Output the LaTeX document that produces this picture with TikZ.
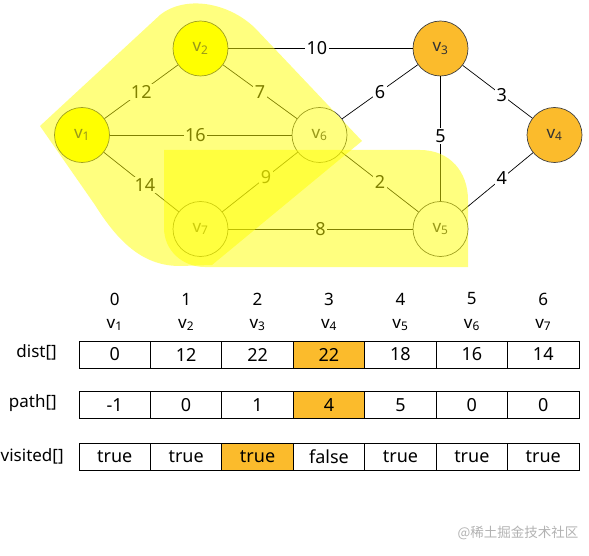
\documentclass[tikz,border=0pt]{standalone}
\usepackage{fontspec}
\setmainfont{Noto Sans}
\newfontfamily\cjk{Noto Sans CJK SC}
\definecolor{hl}{HTML}{FFFF00}
\definecolor{org}{HTML}{FBBB2C}
\begin{document}
\begin{tikzpicture}[x=1pt,y=-1pt,
  vert/.style={circle,draw=black!75,line width=0.7pt,minimum size=55pt,inner sep=0pt,
    font=\fontsize{17}{19}\selectfont,text=black!80},
  wlab/.style={fill=white,inner sep=1.5pt,font=\fontsize{18}{20}\selectfont},
  edge/.style={line width=0.7pt,black},
  cell/.style={draw,line width=0.8pt,minimum width=71.43pt,minimum height=27pt,
    inner sep=0pt},
  val/.style={font=\fontsize{18}{20}\selectfont,inner sep=0pt},
  hdr/.style={font=\fontsize{17}{19}\selectfont},
  rowlab/.style={anchor=east,font=\fontsize{17}{19}\selectfont,inner sep=0pt},
  hlfill/.style={fill=hl,fill opacity=0.5}]
\useasboundingbox (0,0) rectangle (589,556);
% vertices
\node[vert,fill=hl] (v1) at (82,135) {v\textsubscript{1}};
\node[vert,fill=hl] (v2) at (200.5,48.5) {v\textsubscript{2}};
\node[vert,fill=org] (v3) at (440.5,48.5) {v\textsubscript{3}};
\node[vert,fill=org] (v4) at (554.5,135) {v\textsubscript{4}};
\node[vert,fill=white] (v5) at (440.5,229) {v\textsubscript{5}};
\node[vert,fill=white] (v6) at (319.5,135) {v\textsubscript{6}};
\node[vert,fill=white] (v7) at (200.5,229) {v\textsubscript{7}};
% edges
\draw[edge] (v2) -- node[wlab,pos=0.48]{10} (v3);
\draw[edge] (v1) -- node[wlab]{12} (v2);
\draw[edge] (v2) -- node[wlab]{7} (v6);
\draw[edge] (v1) -- node[wlab,pos=0.47]{16} (v6);
\draw[edge] (v1) -- node[wlab,pos=0.55]{14} (v7);
\draw[edge] (v7) -- node[wlab,pos=0.58]{9} (v6);
\draw[edge] (v7) -- node[wlab]{8} (v5);
\draw[edge] (v6) -- node[wlab]{6} (v3);
\draw[edge] (v3) -- node[wlab,pos=0.56]{3} (v4);
\draw[edge] (v3) -- node[wlab,pos=0.48]{5} (v5);
\draw[edge] (v6) -- node[wlab]{2} (v5);
\draw[edge] (v5) -- node[wlab,pos=0.56]{4} (v4);
% highlights
\fill[hlfill] (40,126) -- (160,15) .. controls (185,-5) and (228,2) .. (255,28)
  -- (362,141) -- (212,265) -- (180,266) .. controls (145,266) and (120,245) .. (95,205) -- cycle;
\fill[hlfill] (164,150) -- (420,150) .. controls (450,150) and (468,172) .. (468,200)
  -- (468,267) -- (205,267) .. controls (182,267) and (164,250) .. (164,228) -- cycle;
% table
\foreach \i in {0,...,6}{
  \pgfmathsetmacro{\cx}{114.7+71.43*\i}
  \pgfmathtruncatemacro{\vi}{\i+1}
  \node[hdr] (n\i) at (\cx,299) {\i};
  \node[hdr] (l\i) at (\cx,325) {v\textsubscript{\vi}};
  \node[cell] (d\i) at (\cx,354.5) {};
  \node[cell] (p\i) at (\cx,405) {};
  \node[cell] (w\i) at (\cx,457) {};
}
\node[cell,fill=org] (d3f) at (d3) {};
\node[cell,fill=org] (p3f) at (p3) {};
\node[cell,fill=org] (w2f) at (w2) {};
\foreach \i/\d/\p/\w in {0/0/-1/true,1/12/0/true,2/22/1/true,3/22/4/false,4/18/5/true,5/16/0/true,6/14/0/true}{
  \node[val] (dt\i) at (d\i) {\d};
  \node[val] (pt\i) at (p\i) {\p};
  \node[val] (wt\i) at (w\i) {\w};
}
\node[rowlab] (rd) at (57,352) {dist[]};
\node[rowlab] (rp) at (57,403) {path[]};
\node[rowlab,anchor=west] (rv) at (0.5,456) {visited[]};
\node[font=\cjk\fontsize{13.5}{15}\selectfont,text=black!30] (wm) at (518,533) {@稀土掘金技术社区};
\end{tikzpicture}
\end{document}
